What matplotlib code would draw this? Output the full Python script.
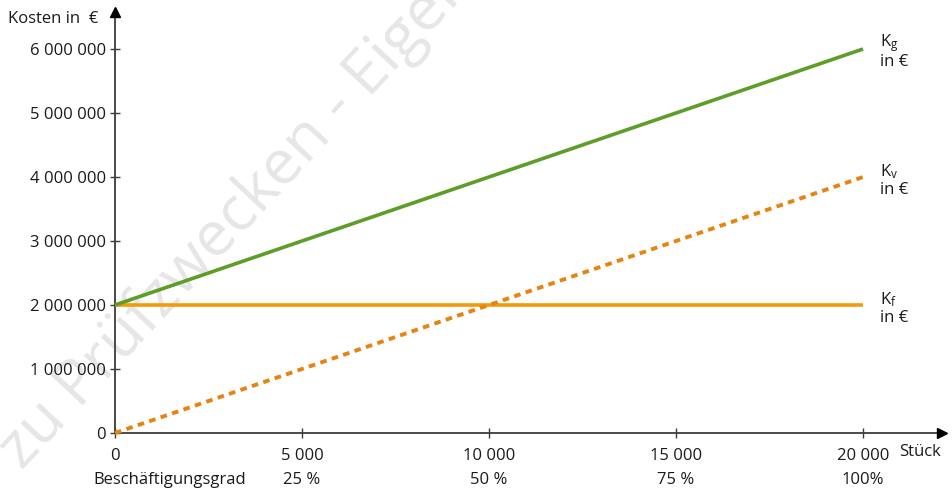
import matplotlib
matplotlib.use("Agg")
import matplotlib.pyplot as plt
import numpy as np

plt.rcParams['font.family'] = ['Open Sans', 'DejaVu Sans']

# Stückzahlen und Kosten
stueck = [0, 20000]
kf = [2000000, 2000000]          # Fixkosten
kv = [0, 4000000]                # variable Kosten
kg = [2000000, 6000000]          # Gesamtkosten

x_ticks = [0, 5000, 10000, 15000, 20000]
x_ticklabels = ["0", "5 000", "10 000", "15 000", "20 000"]
grad_labels = ["25 %", "50 %", "75 %", "100%"]
grad_pos = [5000, 10000, 15000, 20000]
y_ticks = [0, 1000000, 2000000, 3000000, 4000000, 5000000, 6000000]
y_ticklabels = ["0", "1 000 000", "2 000 000", "3 000 000", "4 000 000", "5 000 000", "6 000 000"]

GREEN = "#5c9e28"
ORANGE = "#f39a0a"
ORANGE_DOT = "#e8830f"
AXIS = "#3c3c3c"
TEXT = "#1a1a1a"
FS = 12

fig = plt.figure(figsize=(9.53, 4.91), dpi=100)
W, H = 953, 491
ax = fig.add_axes([115 / W, 58 / H, 827 / W, 421 / H])
ax.patch.set_facecolor('none')

xmax = 22112
ymax = 6578000
ax.set_xlim(0, xmax)
ax.set_ylim(0, ymax)

# Wasserzeichen
fig.text(22 / W, 20 / H, "zu Prüfzwecken - Eigentum des Verlags", fontsize=45,
         color="#e6e6e6", rotation=47, rotation_mode='anchor',
         ha='left', va='baseline', zorder=-5)

# Kurven
ax.plot(stueck, kf, color=ORANGE, lw=2.6, solid_capstyle='butt', clip_on=False, zorder=3)
ax.plot(stueck, kv, color=ORANGE_DOT, lw=2.8, linestyle=(0, (1.7, 1.4)),
        dash_capstyle='butt', clip_on=False, zorder=4)
ax.plot(stueck, kg, color=GREEN, lw=2.6, solid_capstyle='butt', clip_on=False, zorder=5)

# Achsen
for s in ['top', 'right']:
    ax.spines[s].set_visible(False)
for s in ['left', 'bottom']:
    ax.spines[s].set_color(AXIS)
    ax.spines[s].set_linewidth(1.3)
ax.plot(1, 0, marker='>', color='black', markersize=7, transform=ax.transAxes,
        clip_on=False, zorder=6)
ax.plot(0, 1, marker='^', color='black', markersize=7, transform=ax.transAxes,
        clip_on=False, zorder=6)

ax.set_xticks(x_ticks)
ax.set_xticklabels(x_ticklabels)
ax.set_yticks(y_ticks)
ax.set_yticklabels(y_ticklabels)
ax.tick_params(axis='both', direction='inout', length=7, width=1.0, color=AXIS,
               labelsize=FS, labelcolor=TEXT)
ax.tick_params(axis='x', pad=7)
ax.tick_params(axis='y', pad=3)

# Achsenbeschriftungen
fig.text(8 / W, 1 - 19 / H, "Kosten in  €", fontsize=FS, color=TEXT, ha='left', va='center')
fig.text(899 / W, 1 - 452 / H, "Stück", fontsize=FS, color=TEXT, ha='left', va='center')
fig.text(93 / W, 1 - 480 / H, "Beschäftigungsgrad", fontsize=FS, color=TEXT,
         ha='left', va='center')
for p, lab in zip(grad_pos, grad_labels):
    xp = ax.transData.transform((p, 0))[0] / W
    fig.text(xp, 1 - 480 / H, lab, fontsize=FS, color=TEXT, ha='center', va='center')

# Kurvenbezeichnungen
for yv, sub in [(kg[-1], 'g'), (kv[-1], 'v'), (kf[-1], 'f')]:
    ax.text(20000 + 450, yv + 90000, r"$\mathregular{K_{" + sub + "}}$", fontsize=FS,
            color=TEXT, ha='left', va='center')
    ax.text(20000 + 450, yv - 210000, "in €", fontsize=FS, color=TEXT,
            ha='left', va='center')

fig.savefig("out.png", dpi=100)
